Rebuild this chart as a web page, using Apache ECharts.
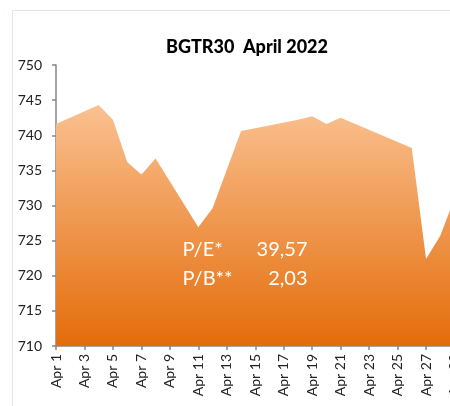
<!DOCTYPE html>
<html>
<head>
<meta charset="utf-8">
<script src="https://cdn.jsdelivr.net/npm/echarts@6/dist/echarts.min.js"></script>
<style>
  html, body { margin: 0; padding: 0; background: #fff; }
  #main { width: 450px; height: 406px; }
</style>
</head>
<body>
<div id="main"></div>
<script>
// calendar days on the date axis (Apr 1 .. Apr 29)
const days = [];
for (let d = 1; d <= 29; d++) days.push("Apr " + d);

// index close per day, null = no trading (weekend / holiday)
const values = [
  741.6, null, null, 744.3, 742.2, 736.2, 734.4, 736.7, null, null,
  726.9, 729.6, 735.1, 740.6, 741.0, null, null, 742.2, 742.7, 741.6,
  742.5, null, null, null, null, 738.2, 722.4, 725.7, 731.0
];

const yTicks = { min: 710, max: 750, step: 5 };

const ratios = [
  { name: "P/E*", val: "39,57" },
  { name: "P/B**", val: "2,03" },
];

const font = "Lato, 'Open Sans', sans-serif";
const axisColor = "#868686";

const chart = echarts.init(document.getElementById("main"));

const ratioText = [];
ratios.forEach((r, i) => {
  ratioText.push({
    type: "text", left: 182.5, top: 240 + i * 28.5, z: 10,
    style: { text: r.name, fill: "#fff", font: "20px " + font }
  });
  ratioText.push({
    type: "text", right: 450 - 307.5, top: 240 + i * 28.5, z: 10,
    style: { text: r.val, fill: "#fff", font: "20px " + font, textAlign: "right" }
  });
});

chart.setOption({
  animation: false,
  title: {
    text: "BGTR30  April 2022",
    left: 242,
    top: 33,
    textAlign: "center",
    textStyle: { fontFamily: font, fontWeight: 900, fontSize: 18, color: "#000" }
  },
  grid: { left: 56, right: -4.5, top: 65, bottom: 60, outerBoundsMode: "none", containLabel: false },
  xAxis: {
    type: "category",
    data: days,
    boundaryGap: false,
    axisLine: { lineStyle: { color: axisColor, width: 1.5 } },
    axisTick: { interval: 1, length: 4, lineStyle: { color: axisColor, width: 1.5 } },
    axisLabel: {
      interval: 1, rotate: 90, margin: 8,
      fontFamily: font, fontSize: 14, color: "#222"
    }
  },
  yAxis: {
    type: "value",
    min: yTicks.min,
    max: yTicks.max,
    interval: yTicks.step,
    splitLine: { show: false },
    axisLine: { show: true, lineStyle: { color: axisColor, width: 1.5 } },
    axisTick: { show: true, length: 4, lineStyle: { color: axisColor, width: 1.5 } },
    axisLabel: { margin: 14, fontFamily: font, fontSize: 14, color: "#222" }
  },
  graphic: [
    {
      type: "rect", z: -1, silent: true,
      shape: { x: 12.5, y: 10.5, width: 600, height: 600 },
      style: { fill: "none", stroke: "#dbe5f1", lineWidth: 1 }
    }
  ].concat(ratioText),
  series: [
    {
      type: "line",
      data: values,
      connectNulls: true,
      showSymbol: false,
      symbol: "none",
      lineStyle: { width: 0 },
      areaStyle: {
        origin: "start",
        opacity: 1,
        color: new echarts.graphic.LinearGradient(0, 0, 0, 1, [
          { offset: 0, color: "#fac191" },
          { offset: 1, color: "#e46c0a" }
        ])
      }
    }
  ]
});
</script>
</body>
</html>
